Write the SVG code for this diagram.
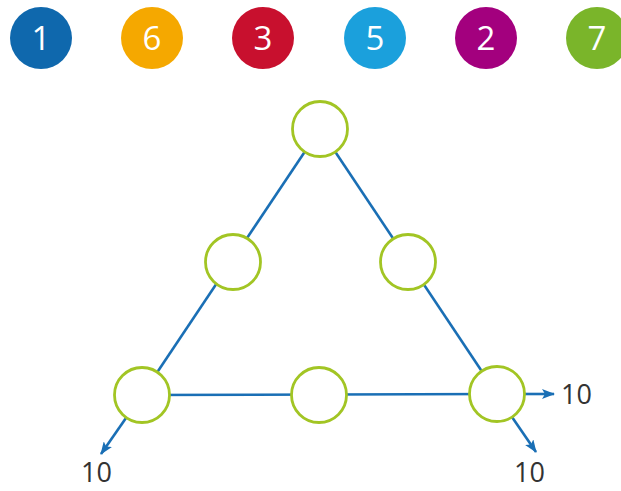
<svg xmlns="http://www.w3.org/2000/svg" width="621" height="491" viewBox="0 0 621 491">
<style>
.badge text{font-family:"Open Sans","Liberation Sans",sans-serif;font-size:33px;fill:#fff;text-anchor:middle}
.node{fill:#fff;stroke:#a2c524;stroke-width:2.8}
.edge{stroke:#1a6fb5;stroke-width:2.6;fill:none}
.lbl{font-family:"Open Sans","Liberation Sans",sans-serif;font-size:27px;fill:#333}
</style>
<defs>
<marker id="ah" markerWidth="13" markerHeight="10" refX="12" refY="5" orient="auto" markerUnits="userSpaceOnUse" viewBox="0 0 13 10">
<path d="M0,0 L13,5 L0,10 L3,5 Z" fill="#1a6fb5"/>
</marker>
</defs>
<g id="badge1" class="badge"><circle cx="41" cy="38" r="31" fill="#0f68ad"/><text x="41" y="50">1</text></g>
<g id="badge6" class="badge"><circle cx="152" cy="38" r="31" fill="#f5a800"/><text x="152" y="50">6</text></g>
<g id="badge3" class="badge"><circle cx="263" cy="38" r="31" fill="#c8102e"/><text x="263" y="50">3</text></g>
<g id="badge5" class="badge"><circle cx="375" cy="38" r="31" fill="#1ba0dc"/><text x="375" y="50">5</text></g>
<g id="badge2" class="badge"><circle cx="486" cy="38" r="31" fill="#a3007e"/><text x="486" y="50">2</text></g>
<g id="badge7" class="badge"><circle cx="597" cy="38" r="31" fill="#7ab52a"/><text x="597" y="50">7</text></g>
<g id="connectors">
<line class="edge" x1="320" y1="129" x2="142" y2="395"/>
<line class="edge" x1="320" y1="129" x2="497" y2="394"/>
<line class="edge" x1="142" y1="395" x2="497" y2="394"/>
<line class="edge" x1="525" y1="394" x2="554" y2="394" marker-end="url(#ah)"/>
<line class="edge" x1="512" y1="417" x2="536" y2="452" marker-end="url(#ah)"/>
<line class="edge" x1="126" y1="418" x2="101" y2="454" marker-end="url(#ah)"/>
</g>
<g id="nTop"><circle class="node" cx="320" cy="129" r="27.5"/></g>
<g id="nMidL"><circle class="node" cx="233" cy="262" r="27.5"/></g>
<g id="nMidR"><circle class="node" cx="408" cy="262" r="27.5"/></g>
<g id="nBotL"><circle class="node" cx="142" cy="395" r="27.5"/></g>
<g id="nBotM"><circle class="node" cx="319" cy="395" r="27.5"/></g>
<g id="nBotR"><circle class="node" cx="497" cy="394" r="27.5"/></g>
<text class="lbl" x="561" y="404">10</text>
<text class="lbl" x="514" y="482">10</text>
<text class="lbl" x="81" y="482">10</text>
</svg>
